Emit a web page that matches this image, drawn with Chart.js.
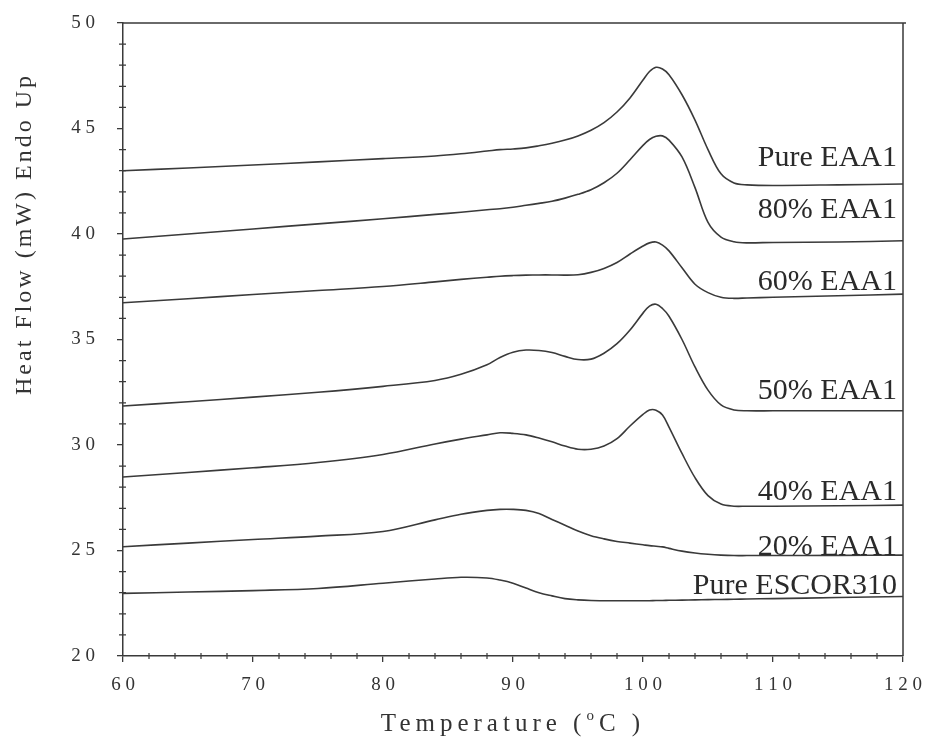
<!DOCTYPE html>
<html>
<head>
<meta charset="utf-8">
<script src="https://cdn.jsdelivr.net/npm/chart.js@4.4.1/dist/chart.umd.min.js"></script>
<style>
  body { margin: 0; background: #fff; }
  canvas { display: block; }
</style>
</head>
<body>
<canvas id="dsc" width="929" height="744"></canvas>
<script>
// temperatures (C) where the curves were read
const temps = [60, 65, 70, 75, 80, 84, 86, 88, 89, 90, 91, 92, 93, 94, 95, 96, 97, 98, 99, 100,
  100.5, 101, 101.5, 102, 103, 104, 105, 106, 107, 108, 110, 115, 120];

const pureEAA1 = [43.0, 43.13, 43.27, 43.42, 43.57, 43.7, 43.8, 43.93, 44.0, 44.03, 44.08, 44.18, 44.3, 44.45, 44.65, 44.92, 45.28, 45.78, 46.45, 47.3,
  47.7, 47.9, 47.82, 47.55, 46.6, 45.4, 44.0, 42.85, 42.42, 42.33, 42.3, 42.33, 42.37];
const eaa80 = [39.76, 40.0, 40.24, 40.48, 40.72, 40.93, 41.03, 41.15, 41.2, 41.27, 41.36, 41.45, 41.55, 41.7, 41.88, 42.1, 42.43, 42.88, 43.52, 44.2,
  44.48, 44.63, 44.65, 44.45, 43.65, 42.2, 40.55, 39.85, 39.63, 39.58, 39.6, 39.62, 39.68];
const eaa60 = [36.74, 36.93, 37.13, 37.32, 37.51, 37.73, 37.85, 37.95, 38.0, 38.03, 38.05, 38.06, 38.06, 38.05, 38.07, 38.18, 38.37, 38.65, 39.05, 39.43,
  39.58, 39.62, 39.47, 39.2, 38.4, 37.62, 37.22, 37.0, 36.95, 36.97, 37.0, 37.07, 37.15];
const eaa50 = [31.85, 32.05, 32.27, 32.5, 32.78, 33.06, 33.35, 33.8, 34.15, 34.4, 34.5, 34.48, 34.38, 34.2, 34.05, 34.07, 34.35, 34.8, 35.45, 36.25,
  36.58, 36.67, 36.47, 36.1, 35.0, 33.7, 32.6, 31.9, 31.66, 31.62, 31.62, 31.62, 31.62];
const eaa40 = [28.48, 28.7, 28.92, 29.17, 29.55, 30.05, 30.28, 30.48, 30.58, 30.55, 30.48, 30.33, 30.15, 29.95, 29.8, 29.8, 29.95, 30.3, 30.9, 31.45,
  31.66, 31.65, 31.42, 30.85, 29.6, 28.45, 27.6, 27.2, 27.1, 27.1, 27.1, 27.12, 27.15];
const eaa20 = [25.18, 25.35, 25.52, 25.68, 25.9, 26.45, 26.72, 26.9, 26.95, 26.95, 26.9, 26.75, 26.47, 26.2, 25.92, 25.7, 25.55, 25.43, 25.35, 25.27,
  25.23, 25.2, 25.17, 25.1, 24.97, 24.88, 24.82, 24.78, 24.76, 24.76, 24.76, 24.77, 24.78];
const pureESCOR = [22.97, 23.03, 23.1, 23.2, 23.45, 23.65, 23.73, 23.7, 23.6, 23.45, 23.22, 23.0, 22.85, 22.72, 22.66, 22.63, 22.62, 22.62, 22.62, 22.62,
  22.62, 22.63, 22.63, 22.64, 22.65, 22.66, 22.67, 22.68, 22.69, 22.7, 22.72, 22.77, 22.82];

const seriesNames = ['Pure EAA1', '80% EAA1', '60% EAA1', '50% EAA1', '40% EAA1', '20% EAA1', 'Pure ESCOR310'];
const seriesValues = [pureEAA1, eaa80, eaa60, eaa50, eaa40, eaa20, pureESCOR];
// heat flow level of each curve label baseline
const labelLevels = [43.24, 40.74, 37.35, 32.16, 27.39, 24.79, 22.94];

const xTicks = [60, 70, 80, 90, 100, 110, 120];
const yTicks = [20, 25, 30, 35, 40, 45, 50];

const ink = '#3a3a3a';
const serif = '"Liberation Serif", "Times New Roman", serif';

function spaced(v) {
  return String(v).split('').join(' ');
}

const datasets = seriesValues.map((vals, i) => ({
  label: seriesNames[i],
  data: temps.map((t, j) => ({ x: t, y: vals[j] })),
  borderColor: ink,
  borderWidth: 1.6,
  pointRadius: 0,
  tension: 0.35,
  fill: false
}));

const decor = {
  id: 'decor',
  afterDraw(chart) {
    const { ctx, chartArea: a, scales } = chart;
    ctx.save();
    ctx.strokeStyle = ink;
    ctx.lineWidth = 1.5;
    ctx.beginPath();
    ctx.moveTo(a.left, a.top);
    ctx.lineTo(a.right + 3, a.top);
    ctx.moveTo(a.right, a.top);
    ctx.lineTo(a.right, a.bottom);
    ctx.stroke();

    // minor ticks
    ctx.lineWidth = 1.2;
    ctx.beginPath();
    for (let v = 21; v < 50; v++) {
      if (v % 5 === 0) continue;
      const y = scales.y.getPixelForValue(v);
      ctx.moveTo(a.left - 4, y);
      ctx.lineTo(a.left + 3, y);
    }
    for (let t = 62; t < 120; t += 2) {
      if (t % 10 === 0) continue;
      const x = scales.x.getPixelForValue(t);
      ctx.moveTo(x, a.bottom - 3);
      ctx.lineTo(x, a.bottom + 3);
    }
    ctx.stroke();

    // curve labels
    ctx.fillStyle = '#2a2a2a';
    ctx.font = '30px ' + serif;
    ctx.textAlign = 'right';
    ctx.textBaseline = 'alphabetic';
    seriesNames.forEach((name, i) => {
      ctx.fillText(name, a.right - 6, scales.y.getPixelForValue(labelLevels[i]));
    });

    // axis titles
    ctx.fillStyle = '#333';
    if ('letterSpacing' in ctx) ctx.letterSpacing = '5px';
    ctx.textAlign = 'left';
    const part1 = 'Temperature (';
    const part3 = 'C )';
    ctx.font = '25px ' + serif;
    const w1 = ctx.measureText(part1).width;
    ctx.font = '15px ' + serif;
    const w2 = ctx.measureText('o').width;
    ctx.font = '25px ' + serif;
    const w3 = ctx.measureText(part3).width;
    let x0 = (a.left + a.right) / 2 - (w1 + w2 + w3) / 2;
    const yb = 731;
    ctx.fillText(part1, x0, yb);
    ctx.font = '15px ' + serif;
    ctx.fillText('o', x0 + w1, yb - 11);
    ctx.font = '25px ' + serif;
    ctx.fillText(part3, x0 + w1 + w2, yb);

    ctx.font = '24px ' + serif;
    if ('letterSpacing' in ctx) ctx.letterSpacing = '3px';
    ctx.translate(31, 234);
    ctx.rotate(-Math.PI / 2);
    ctx.textAlign = 'center';
    ctx.fillText('Heat Flow (mW) Endo Up', 0, 0);
    ctx.restore();
  }
};

new Chart(document.getElementById('dsc'), {
  type: 'line',
  data: { datasets: datasets },
  options: {
    responsive: false,
    animation: false,
    layout: { padding: { top: 23, right: 26, left: 0, bottom: 0 } },
    plugins: { legend: { display: false }, tooltip: { enabled: false } },
    scales: {
      x: {
        type: 'linear',
        min: 60,
        max: 120,
        afterBuildTicks: s => { s.ticks = xTicks.map(v => ({ value: v })); },
        afterFit: s => { s.height = 88; s.paddingLeft = 0; s.paddingRight = 0; },
        ticks: { callback: v => spaced(v), font: { family: serif, size: 19 }, color: '#333', padding: 12, maxRotation: 0 },
        grid: { drawOnChartArea: false, tickLength: 6, color: ink, lineWidth: 1.3 },
        border: { color: ink, width: 1.5 }
      },
      y: {
        type: 'linear',
        min: 20,
        max: 50,
        afterBuildTicks: s => { s.ticks = yTicks.map(v => ({ value: v })); },
        afterFit: s => { s.width = 123; s.paddingTop = 0; s.paddingBottom = 0; },
        ticks: { callback: v => spaced(v), font: { family: serif, size: 19 }, color: '#333', padding: 22 },
        grid: { drawOnChartArea: false, tickLength: 6, color: ink, lineWidth: 1.3 },
        border: { color: ink, width: 1.5 }
      }
    }
  },
  plugins: [decor]
});
</script>
</body>
</html>
